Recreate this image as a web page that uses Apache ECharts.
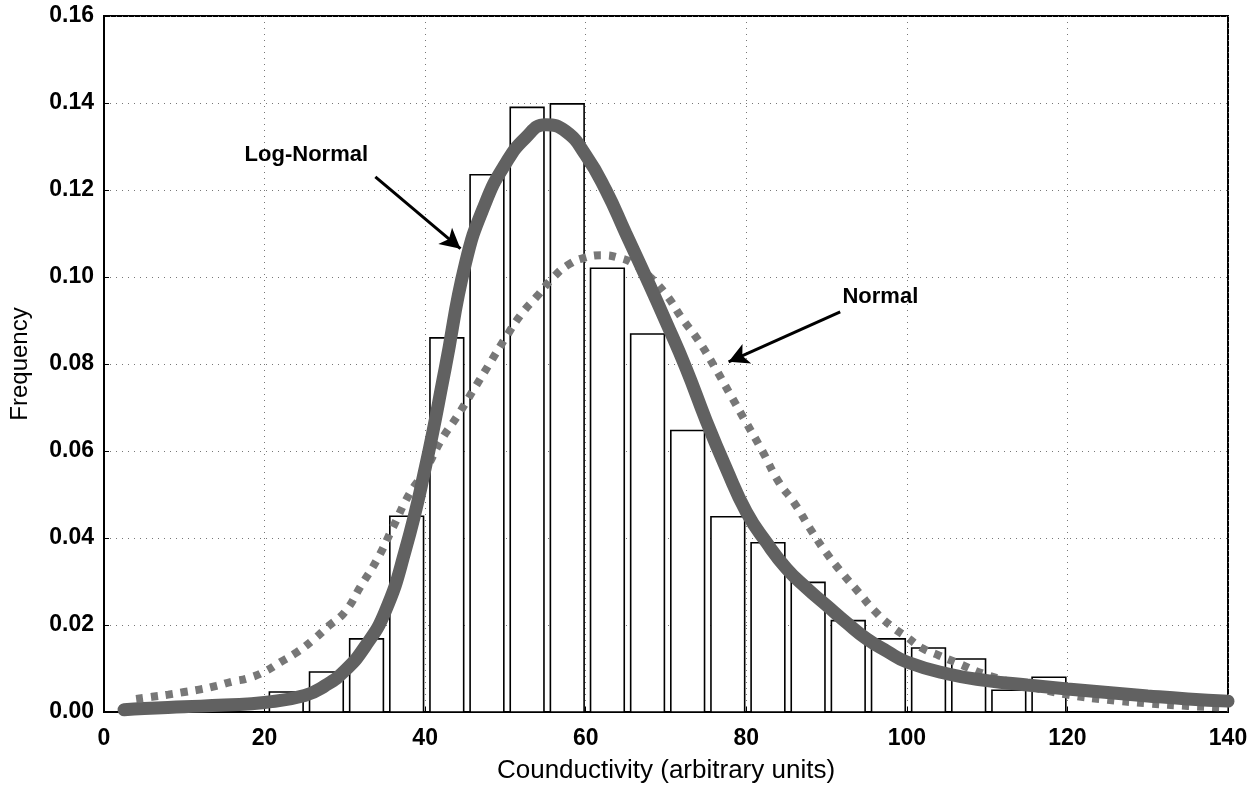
<!DOCTYPE html>
<html>
<head>
<meta charset="utf-8">
<title>Counductivity histogram</title>
<script src="https://cdn.jsdelivr.net/npm/echarts@6/dist/echarts.min.js"></script>
<style>
  html, body { margin: 0; padding: 0; background: #fff; }
  #chart { width: 1260px; height: 791px; }
</style>
</head>
<body>
<div id="chart"></div>
<script>
// histogram bins (start of each 5-unit bin) and frequencies
var binStarts = [20, 25, 30, 35, 40, 45, 50, 55, 60, 65, 70, 75, 80, 85, 90, 95, 100, 105, 110, 115];
var binFreq = [0.0046, 0.0092, 0.0168, 0.045, 0.086, 0.1235, 0.139, 0.1398, 0.102, 0.0869, 0.0647, 0.0449, 0.0389, 0.0298, 0.021, 0.0168, 0.0147, 0.0122, 0.005, 0.008];
var binWidth = 5;

// fitted log-normal curve
var logNormX = [2.5, 5, 10, 15, 20, 25, 27.5, 30, 32.5, 35, 37.5, 40, 42.5, 45, 47.5, 50, 52.5, 55, 57.5, 60, 62.5, 65, 67.5, 70, 72.5, 75, 77.5, 80, 82.5, 85, 87.5, 90, 92.5, 95, 97.5, 100, 105, 110, 115, 120, 125, 130, 135, 140];
var logNormY = [0.0005, 0.0008, 0.0012, 0.0016, 0.0022, 0.0038, 0.006, 0.0095, 0.015, 0.023, 0.037, 0.056, 0.079, 0.103, 0.117, 0.126, 0.132, 0.135, 0.1335, 0.128, 0.12, 0.11, 0.1, 0.0897, 0.079, 0.067, 0.056, 0.046, 0.039, 0.033, 0.0285, 0.0245, 0.0205, 0.0168, 0.014, 0.0115, 0.0088, 0.0072, 0.0062, 0.0053, 0.0045, 0.0037, 0.003, 0.0025];

// fitted normal curve
var normX = [4, 6, 8, 10, 12, 14, 16, 18, 20, 22, 24, 26, 28, 30, 32, 34, 36, 38, 40, 42, 44, 46, 48, 50, 52, 54, 56, 58, 60, 62, 64, 66, 68, 70, 72, 74, 76, 78, 80, 82, 84, 86, 88, 90, 92, 94, 96, 98, 100, 102, 104, 106, 110, 115, 120, 125, 130, 135, 140];
var normY = [0.003, 0.0035, 0.004, 0.0046, 0.0052, 0.006, 0.007, 0.0078, 0.0093, 0.0115, 0.0137, 0.0165, 0.0198, 0.023, 0.029, 0.035, 0.0425, 0.05, 0.0555, 0.0625, 0.068, 0.074, 0.08, 0.086, 0.0915, 0.0957, 0.1, 0.103, 0.1045, 0.105, 0.1045, 0.103, 0.1, 0.096, 0.0905, 0.0855, 0.0795, 0.073, 0.0665, 0.06, 0.053, 0.048, 0.042, 0.0365, 0.0318, 0.0275, 0.0232, 0.0198, 0.0172, 0.0146, 0.013, 0.0115, 0.0085, 0.006, 0.004, 0.0028, 0.002, 0.0014, 0.001];

var xTicks = [0, 20, 40, 60, 80, 100, 120, 140];
var yTicks = [0, 0.02, 0.04, 0.06, 0.08, 0.10, 0.12, 0.14, 0.16];

var font = "'Liberation Sans', Arial, sans-serif";

function pairs(xs, ys) {
  var out = [];
  for (var i = 0; i < xs.length; i++) out.push([xs[i], ys[i]]);
  return out;
}

var barData = [];
for (var i = 0; i < binStarts.length; i++) {
  barData.push([binStarts[i], binStarts[i] + binWidth, binFreq[i]]);
}

// text label pinned at a data point (invisible symbol)
function note(text, x, y) {
  return {
    coord: [x, y],
    symbol: "circle",
    symbolSize: 1,
    itemStyle: { color: "rgba(0,0,0,0)" },
    label: {
      show: true, position: "inside", formatter: text,
      fontFamily: font, fontSize: 22, fontWeight: "bold", color: "#000"
    }
  };
}

var myChart = echarts.init(document.getElementById("chart"));
var option = {
  backgroundColor: "#fff",
  animation: false,
  grid: {
    left: 103, right: 32, top: 16, bottom: 79,
    show: true, borderColor: "#000", borderWidth: 2, backgroundColor: "transparent"
  },
  xAxis: {
    type: "value",
    min: 0, max: 140, interval: 20,
    name: "Counductivity (arbitrary units)",
    nameLocation: "middle",
    nameGap: 46,
    nameMoveOverlap: false,
    nameTextStyle: { fontFamily: font, fontSize: 26, color: "#000" },
    axisLine: { show: true, lineStyle: { color: "#000", width: 2 } },
    axisTick: { show: true, inside: true, length: 5, lineStyle: { color: "#000" } },
    axisLabel: {
      margin: 15, fontFamily: font, fontSize: 23, fontWeight: "bold", color: "#000",
      formatter: function (v) { return xTicks.indexOf(v) >= 0 ? String(v) : ""; }
    },
    splitLine: { show: true, lineStyle: { color: "#777", type: [1, 5], width: 1 } }
  },
  yAxis: {
    type: "value",
    min: 0, max: 0.16, interval: 0.02,
    name: "Frequency",
    nameLocation: "middle",
    nameGap: 72,
    nameTextStyle: { fontFamily: font, fontSize: 24, color: "#000" },
    axisLine: { show: true, lineStyle: { color: "#000", width: 2 } },
    axisTick: { show: true, inside: true, length: 5, lineStyle: { color: "#000" } },
    axisLabel: {
      margin: 10, fontFamily: font, fontSize: 23, fontWeight: "bold", color: "#000",
      formatter: function (v) { return v.toFixed(2); }
    },
    splitLine: { show: true, lineStyle: { color: "#777", type: [1, 5], width: 1 } }
  },
  series: [
    {
      name: "Histogram",
      type: "custom",
      z: 2,
      data: barData,
      renderItem: function (params, api) {
        var a = api.value(0), b = api.value(1), h = api.value(2);
        var p0 = api.coord([a + 0.6, h]);
        var p1 = api.coord([b - 0.2, 0]);
        return {
          type: "rect",
          shape: { x: p0[0], y: p0[1], width: p1[0] - p0[0], height: p1[1] - p0[1] },
          style: { fill: "#fff", stroke: "#000", lineWidth: 1.6 }
        };
      }
    },
    {
      name: "Normal",
      type: "line",
      z: 3,
      smooth: true,
      showSymbol: false,
      data: pairs(normX, normY),
      lineStyle: { color: "#777", width: 8, type: [7, 8], cap: "butt" },
      markPoint: {
        silent: true,
        data: [note("Normal", 96.7, 0.0954)]
      },
      markLine: {
        silent: true,
        symbol: ["none", "arrow"],
        symbolSize: [16, 20],
        lineStyle: { color: "#000", width: 3, type: "solid" },
        label: { show: false },
        data: [[{ coord: [91.7, 0.092] }, { coord: [77.8, 0.0805] }]]
      }
    },
    {
      name: "Log-Normal",
      type: "line",
      z: 4,
      smooth: true,
      showSymbol: false,
      data: pairs(logNormX, logNormY),
      lineStyle: { color: "#616161", width: 13, cap: "round" },
      markPoint: {
        silent: true,
        data: [note("Log-Normal", 25.2, 0.128)]
      },
      markLine: {
        silent: true,
        symbol: ["none", "arrow"],
        symbolSize: [16, 20],
        lineStyle: { color: "#000", width: 3, type: "solid" },
        label: { show: false },
        data: [[{ coord: [33.8, 0.123] }, { coord: [44.4, 0.1065] }]]
      }
    }
  ]
};
myChart.setOption(option);
window.onresize = function () {
  myChart ? myChart.resize() : "";
};
</script>
</body>
</html>
